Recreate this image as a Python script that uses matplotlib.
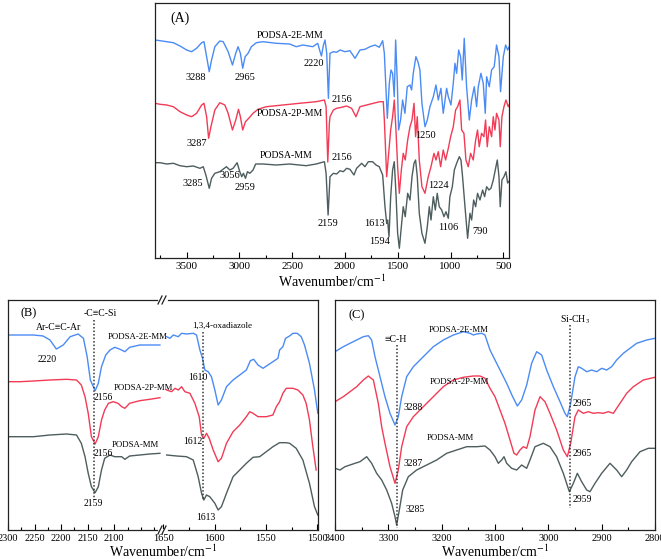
import matplotlib
matplotlib.use('Agg')
import matplotlib.pyplot as plt
from matplotlib.lines import Line2D
from matplotlib.ticker import MultipleLocator, FixedLocator

plt.rcParams['font.family'] = ['Liberation Serif', 'DejaVu Serif']
plt.rcParams['mathtext.fontset'] = 'stix'

# ---------------- Panel A data ----------------
A_wn_2E = [3799,3752,3689,3626,3563,3500,3453,3406,3358,3336,3311,3286,3264,3233,3186,3154,3107,3066,3035,3013,
           2991,2969,2946,2918,2887,2840,2777,2651,2525,2462,2399,2305,2258,2236,2223,2204,2189,2173,2157,
           2142,2110,2079,2047,2000,1953,1905,1858,1811,1763,1716,1675,1643,1627,1599,1580,1564,1549,1533,1520,
           1504,1492,1473,1454,1432,1410,1384,1369,1353,1328,1309,1290,1271,1242,1220,1195,1163,1138,1116,1091,
           1069,1037,1021,996,974,958,942,923,905,889,870,848,822,800,775,753,737,712,690,671,658,633,611,586,
           564,541,526,500,478,459,437]
A_T_2E = [218,217.3,216.3,215.3,212,208,206.3,209.7,215.3,216.3,201.3,186.3,198,211.3,217,216.3,206.3,193,204.7,211.3,
          204.7,189.7,201.3,204.7,211.3,215.3,216.3,214.7,214,211.3,213,211.3,214.7,206.3,202,213,218,204.7,159.7,
          204.7,206.3,205.7,208,206.3,207.3,199.7,208,208.7,211.3,213,210.7,217.3,204.7,139.7,174.7,188,184.7,161.3,218,
          174.7,128,138,158,144.7,171.3,173,168,184.7,201.3,196.3,188,154.7,131.3,138,151.3,161.3,173,158,169.7,
          144.7,169.7,161.3,153,174.7,194.7,184.7,208,201.3,178,219.7,171.3,138,158,171.3,151.3,171.3,184.7,174.7,
          144.7,181.3,171.3,188,191.3,213,201.3,166.3,201.3,213,208,213]

A_wn_2P = [3799,3752,3689,3626,3563,3500,3453,3406,3358,3336,3311,3292,3270,3233,3186,3138,3107,3066,3035,3009,
           2991,2969,2943,2912,2871,2824,2745,2588,2431,2273,2195,2179,2163,2148,
           2142,2110,2079,2032,1984,1937,1896,1858,1795,1732,1669,1637,1627,1605,1586,1567,1549,1533,1517,1501,
           1485,1466,1448,1429,1406,1384,1365,1346,1331,1315,1296,1271,1242,1211,1185,1157,1138,1116,1094,1069,
           1047,1021,999,974,952,933,911,895,873,854,832,810,785,762,744,728,706,684,668,652,633,611,595,579,
           564,541,529,513,494,475,453,437]
A_T_2P = [154.7,153.7,153,151.3,146.3,143,141.3,144.7,153,154.7,141.3,119.7,131.3,148,155.3,153,144.7,128,138,148.7,
          141.3,128,136.3,139.7,144.7,148.7,151.3,153,154.7,156.3,158,151.3,96,134.7,
          141.3,148,149.7,150.7,152,149.7,141.3,151.3,153,154.7,156.3,156.3,138,81.3,104.7,128,141.3,158,128,91.3,
          64.7,88,104.7,98,118,131.3,138,154.7,121.3,141.3,98,71.3,64.7,81.3,91.3,104.7,98,106.3,91.3,108,
          98,109.7,121.3,131.3,148,151.3,158,128,124.7,98,91.3,104.7,98,118,128,111.3,124.7,121.3,138,111.3,131.3,121.3,141.3,128,
          144.7,138,111.3,141.3,151.3,158,151.3,154.7]

A_wn_MM = [3799,3752,3689,3626,3563,3500,3437,3374,3343,3318,3286,3264,3233,3186,3123,3091,3060,3022,2997,2978,
           2962,2943,2924,2902,2871,2846,2777,2651,2525,2368,2273,2195,2179,2160,
           2142,2110,2079,2047,2016,1984,1953,1915,1890,1842,1811,1779,1738,1706,1675,1643,1621,1605,1596,1583,
           1567,1549,1533,1517,1501,1485,1466,1448,1429,1406,1384,1365,1346,1331,1315,1296,1271,1242,1220,1201,
           1185,1163,1144,1126,1107,1084,1062,1043,1021,1006,983,964,942,917,901,886,863,838,816,800,781,762,
           744,721,696,677,658,636,617,595,576,557,541,529,513,494,475,459,437]
A_T_MM = [95.3,95.3,94,94.7,92.3,91.3,92,89.7,91.3,83,69.7,79.7,84.7,86.3,91.3,88,89.7,95.3,86.3,81.3,
          84.7,79.7,86.3,84.7,88,94,94,93,94,92.3,94,96.3,84.7,43,
          81.3,84.7,84,87.3,86.3,89.7,88.7,83,89.7,94.7,91.3,96.3,96.3,93,91.3,83,51.3,34.7,38,21.3,
          61.3,88,96.3,64.7,24.7,9.7,31.3,51.3,41.3,64.7,58,81.3,94.7,98,81.3,44.7,24.7,14.7,31.3,51.3,
          38,61.3,48,64.7,51.3,48,41.3,46.3,39.7,61.3,71.3,88,94.7,101.3,98,81.3,51.3,19.7,44.7,38,58,51.3,
          64.7,58,68,61.3,71.3,68,69.7,78,88,98,81.3,51.3,78,81.3,86.3,75,78]

# ---------------- Panel B data (left: 2300-2012, right: 1652-1500) ----------------
B_wnL_2E = [2299,2277,2252,2234,2221,2209,2196,2183,2168,2158,2151,2145,2136,2130,2124,2116,2108,2099,2089,2080,2071,2052,2033,2014]
B_TL_2E = [195,195,195,194,190,181,185,193.3,196,191.7,173.3,150,139.3,146.7,163.3,175,180,182.7,180.7,178.3,182.7,185,185,185]
B_wnL_2P = [2299,2277,2252,2221,2190,2171,2162,2155,2149,2143,2136,2130,2124,2118,2111,2102,2093,2086,2080,2071,2052,2033,2014]
B_TL_2P = [148.3,148.3,149,150,150.7,150,145,133.3,116.7,93.3,86,93.3,110,120,126.7,128.3,126.7,123.3,121.7,126.7,129.3,130.7,132.3]
B_wnL_MM = [2299,2277,2252,2221,2190,2171,2162,2155,2149,2143,2136,2130,2124,2118,2108,2099,2086,2080,2071,2052,2033,2014]
B_TL_MM = [93.3,93.3,93.3,95,96,95,86.7,73.3,56.7,43.3,37.3,43.3,60,71.7,75,73.3,73.3,70.7,74,75,76,76.7]

B_wnR_2E = [1646.5,1643.3,1640,1635.2,1632,1627.2,1620.7,1617.5,1614.2,1611.7,1609.4,1606.2,1603,1599.7,1596.5,1593.3,
            1588.4,1582,1575.5,1569.1,1565.2,1562,1557.8,1552.9,1548.1,1543.3,1538.4,1536.8,1533.6,1531,1527.1,1523.9,
            1519.7,1515.8,1512.6,1507.8,1502.9,1499.7]
B_TR_2E = [193.3,191.7,195,193.3,196.7,196,196.7,195,180,171.7,160,158.3,153.3,140,125,130,
           143.3,150,155,160,169.3,170.7,165,161.7,165,168.3,171.7,180,183.3,191.7,194,196.7,
           196.7,193.3,185,166.7,140,116.7]
B_wnR_2P = [1646.5,1641.7,1638.4,1635.2,1632,1628.8,1623.9,1619.1,1614.9,1612.6,1610.4,1607.8,1605.2,1601.3,1596.5,1593.3,
            1588.4,1582,1575.5,1569.1,1565.8,1562.6,1557.8,1549.7,1543.3,1540,1536.8,1533.6,1530.3,1523.9,1519,1514.2,
            1511,1507.8,1504.5,1501.3]
B_TR_2P = [140,138.3,141.7,140,143.3,138.3,136.7,126.7,113.3,95,91.7,96.7,91.7,80,68.3,71.7,
           86.7,98.3,105,113.3,118.3,116.7,113.3,113.3,115,123.3,128.3,136.7,141.7,141.7,140,135,
           126.7,110,83.3,60]
B_wnR_MM = [1646.5,1636.8,1627.2,1620.7,1615.9,1612.6,1610.4,1607.8,1604.6,1599.7,1596.5,1593.3,1588.4,1582,1575.5,1569.1,
            1562.6,1556.2,1549.7,1543.3,1536.8,1530.3,1527.1,1520.7,1514.2,1507.8,1502.9,1499.7]
B_TR_MM = [75,74,73.3,70,53.3,36.7,30,35,33.3,26.7,20,23.3,36.7,53.3,60,66.7,
           72.7,73.3,78.3,83.3,87.3,87.3,86.7,81.7,70,46.7,23.3,15]

# ---------------- Panel C data ----------------
C_wn_2E = [3400,3384.4,3371.9,3359.4,3346.9,3337.5,3331.3,3325,3315.6,3306.3,3296.9,3287.5,3281.3,3275,3265.6,3253.1,
           3234.4,3215.6,3196.9,3178.1,3159.4,3146.9,3140.6,3134.4,3125,3118.8,3109.4,3100,3090.6,3078.1,3066.9,3058.1,
           3050,3040.6,3031.3,3021.9,3012.5,3003.1,2990.6,2978.1,2968.8,2964.4,2958.1,2950,2943.8,2937.5,2928.1,2918.8,
           2909.4,2900,2890.6,2881.3,2871.9,2859.4,2846.9,2834.4,2815.6,2800]
C_T_2E = [178.3,183.3,186.7,190,193.3,194.3,190,173.3,153.3,133.3,116.7,105,113.3,133.3,153.3,163.3,
          173.3,183.3,190,195,198.3,196.7,195,196,196.7,195,180,170,160,146.7,133.3,124,
          130,145,166.7,178.3,175,160,143.3,128.3,116.7,113.3,126.7,153.3,163.3,161.7,158.3,160,
          158.3,161.7,160,163.3,170,176.7,181.7,186.7,190,191.7]
C_wn_2P = [3400,3384.4,3371.9,3359.4,3346.9,3337.5,3328.1,3318.8,3312.5,3306.3,3296.9,3287.5,3281.3,3275,3265.6,3253.1,
           3234.4,3215.6,3196.9,3178.1,3159.4,3140.6,3128.1,3118.8,3109.4,3100,3090.6,3081.3,3071.9,3064.4,3059.4,3053.1,
           3046.9,3040.6,3034.4,3025,3015.6,3006.3,2996.9,2984.4,2971.9,2964.4,2958.1,2950,2943.8,2934.4,2925,2915.6,
           2906.3,2896.9,2887.5,2878.1,2865.6,2853.1,2840.6,2821.9,2800]
C_T_2P = [128.3,133.3,138.3,143.3,150,154,150,126.7,103.3,86.7,63.3,46.7,60,83.3,103.3,113.3,
          123.3,133.3,143.3,150,152.7,154,154,151.7,141.7,133.3,120,106.7,90,76.7,75,80,
          83.3,81.7,93.3,120,133.3,128.3,116.7,100,80,73.3,86.7,113.3,120,116.7,118.3,116.7,
          117.3,116.7,118.3,116.7,126.7,136.7,143.3,150,152.7]
C_wn_MM = [3400,3390.6,3381.3,3371.9,3362.5,3353.1,3340.6,3331.3,3321.9,3312.5,3303.1,3293.8,3287.5,3284.4,3279.4,3273.1,
           3262.5,3246.9,3228.1,3209.4,3190.6,3171.9,3153.1,3134.4,3118.8,3109.4,3100,3093.8,3087.5,3083.1,3078.1,3068.8,
           3059.4,3050,3040.6,3034.4,3025,3009.4,2996.9,2984.4,2971.9,2960.6,2953.1,2945.6,2937.5,2928.1,2921.9,2912.5,
           2900,2884.4,2871.9,2862.5,2853.1,2843.8,2828.1,2812.5,2800]
C_T_MM = [61.7,60,63.3,65,66.7,68.3,73.3,66.7,56.7,50,40,26.7,13.3,5,20,40,
          53.3,60,65,70,76.7,80,83.3,83.3,84,80,73.3,66.7,70,73.3,66.7,61.7,
          60,65,61.7,70,83.3,86.7,83.3,73.3,56.7,38.3,46.7,56.7,48.3,40,38.3,46.7,
          56.7,66.7,60,53.3,60,68.3,78.3,81.7,81.7]

BLUE = '#4b8bf4'
RED = '#f23b56'
GRAY = '#4e5d5e'
LW = 1.0

W, H = 661, 559
fig = plt.figure(figsize=(W / 100, H / 100), dpi=100)


def box(l, t, r, b):
    return [l / W, 1 - b / H, (r - l) / W, (b - t) / H]


def style(ax, size):
    ax.set_facecolor('none')
    ax.set_yticks([])
    ax.tick_params(axis='x', which='both', direction='in', top=False, labelsize=size, pad=3)
    ax.tick_params(axis='x', which='major', length=4, width=0.8)
    ax.tick_params(axis='x', which='minor', length=2.5, width=0.8)
    for s in ax.spines.values():
        s.set_linewidth(0.9)
        s.set_color('#222222')


# ---- Panel A ----
axA = fig.add_axes(box(155, 3, 509, 258))
axA.plot(A_wn_2E, A_T_2E, color=BLUE, lw=LW)
axA.plot(A_wn_2P, A_T_2P, color=RED, lw=LW)
axA.plot(A_wn_MM, A_T_MM, color=GRAY, lw=LW)
axA.set_xlim(3800, 446)
axA.set_ylim(0, 255)
axA.xaxis.set_major_locator(FixedLocator([3500, 3000, 2500, 2000, 1500, 1000, 500]))
axA.xaxis.set_minor_locator(FixedLocator([3750, 3250, 2750, 2250, 1750, 1250, 750]))
style(axA, 8)
axA.set_xlabel('Wavenumber/cm$^{-1}$', fontsize=10, labelpad=2)

tsA = 7.5
axA.text(3658, 240, '(A)', fontsize=10, ha='left', va='center')
axA.text(2521, 223, 'PODSA-2E-MM', fontsize=7, ha='center', va='center')
axA.text(2521, 144, 'PODSA-2P-MM', fontsize=7, ha='center', va='center')
axA.text(2558, 102, 'PODSA-MM', fontsize=7, ha='center', va='center')
for wn, v, s in [(3412, 180, '3288'), (2948, 181, '2965'), (2294, 195, '2220'), (2029, 159, '2156'),
                 (3400, 115, '3287'), (1233, 122, '1250'), (2029, 101, '2156'), (3439, 75, '3285'),
                 (3089, 83, '3056'), (2948, 70, '2959'), (2162, 35, '2159'), (1725, 34, '1613'),
                 (1668, 17, '1594'), (1110, 72, '1224'), (1025, 31, '1106'), (722, 26, '790')]:
    axA.text(wn, v, s, fontsize=tsA, ha='center', va='center')

# ---- Panel B (broken axis) ----
axB1 = fig.add_axes(box(8, 300, 161, 530))
axB2 = fig.add_axes(box(161, 300, 318, 530))
for ax in (axB1, axB2):
    style(ax, 7.5)
    ax.set_ylim(0, 230)
axB1.spines['right'].set_visible(False)
axB2.spines['left'].set_visible(False)
axB1.plot(B_wnL_2E, B_TL_2E, color=BLUE, lw=LW)
axB1.plot(B_wnL_2P, B_TL_2P, color=RED, lw=LW)
axB1.plot(B_wnL_MM, B_TL_MM, color=GRAY, lw=LW)
axB2.plot(B_wnR_2E, B_TR_2E, color=BLUE, lw=LW)
axB2.plot(B_wnR_2P, B_TR_2P, color=RED, lw=LW)
axB2.plot(B_wnR_MM, B_TR_MM, color=GRAY, lw=LW)
axB1.set_xlim(2300, 2012)
axB2.set_xlim(1652, 1499.5)
axB1.xaxis.set_major_locator(FixedLocator([2300, 2250, 2200, 2150, 2100]))
axB1.xaxis.set_minor_locator(FixedLocator([2275, 2225, 2175, 2125, 2075, 2050, 2025]))
axB2.xaxis.set_major_locator(FixedLocator([1650, 1600, 1550, 1500]))
axB2.xaxis.set_minor_locator(FixedLocator([1625, 1575, 1525]))
fig.text(163 / W, 1 - 552 / H, 'Wavenumber/cm$^{-1}$', fontsize=10, ha='center', va='center')

dot = dict(ls=(0, (1, 1.3)), color='#333333', lw=1.1)
axB1.plot([2138, 2138], [210, 30], **dot)
axB2.plot([1611, 1611], [198, 30], **dot)
tsB = 7
axB1.text(2277, 217, '(B)', fontsize=9, ha='left', va='center')
axB1.text(2126, 217, '-C≡C-Si', fontsize=tsB, ha='center', va='center')
axB1.text(2205, 203, 'Ar-C≡C-Ar', fontsize=tsB, ha='center', va='center')
axB1.text(2226, 171, '2220', fontsize=tsB, ha='center', va='center')
axB1.text(2055, 193, 'PODSA-2E-MM', fontsize=6.3, ha='center', va='center')
axB1.text(2046, 142, 'PODSA-2P-MM', fontsize=6.3, ha='center', va='center')
axB1.text(2060, 85, 'PODSA-MM', fontsize=6.3, ha='center', va='center')
axB1.text(2121, 132, '2156', fontsize=tsB, ha='center', va='center')
axB1.text(2121, 77, '2156', fontsize=tsB, ha='center', va='center')
axB1.text(2140, 27, '2159', fontsize=tsB, ha='center', va='center')
axB2.text(1593, 204, '1,3,4-oxadiazole', fontsize=6.5, ha='center', va='center')
axB2.text(1616, 152, '1610', fontsize=tsB, ha='center', va='center')
axB2.text(1621, 88, '1612', fontsize=tsB, ha='center', va='center')
axB2.text(1608, 13, '1613', fontsize=tsB, ha='center', va='center')

# break marks
for yb in (300, 530):
    fig.add_artist(Line2D([159 / W, 166 / W], [1 - yb / H, 1 - yb / H], color='white', lw=2))
    for xo in (158, 162):
        fig.add_artist(Line2D([xo / W, (xo + 4) / W], [1 - (yb + 4) / H, 1 - (yb - 4) / H],
                              color='#222222', lw=0.9))

# ---- Panel C ----
axC = fig.add_axes(box(335, 300, 655, 530))
axC.plot(C_wn_2E, C_T_2E, color=BLUE, lw=LW)
axC.plot(C_wn_2P, C_T_2P, color=RED, lw=LW)
axC.plot(C_wn_MM, C_T_MM, color=GRAY, lw=LW)
axC.set_xlim(3400, 2800)
axC.set_ylim(0, 230)
axC.xaxis.set_major_locator(MultipleLocator(100))
axC.xaxis.set_minor_locator(MultipleLocator(50))
style(axC, 7.5)
axC.set_xlabel('Wavenumber/cm$^{-1}$', fontsize=10, labelpad=0)
axC.plot([3284, 3284], [185, 2], **dot)
axC.plot([2959, 2959], [205, 22], **dot)
axC.text(3375, 215, '(C)', fontsize=9, ha='left', va='center')
axC.text(3286, 190, '≡C-H', fontsize=tsB, ha='center', va='center')
axC.text(3169, 200, 'PODSA-2E-MM', fontsize=6.3, ha='center', va='center')
axC.text(3166, 148, 'PODSA-2P-MM', fontsize=6.3, ha='center', va='center')
axC.text(3183, 92, 'PODSA-MM', fontsize=6.3, ha='center', va='center')
axC.text(3253, 123, '3288', fontsize=tsB, ha='center', va='center')
axC.text(3253, 66, '3287', fontsize=tsB, ha='center', va='center')
axC.text(3250, 21, '3285', fontsize=tsB, ha='center', va='center')
axC.text(2950, 210, 'Si-CH$_3$', fontsize=tsB, ha='center', va='center')
axC.text(2955, 127, '2965', fontsize=tsB, ha='left', va='center')
axC.text(2955, 76, '2965', fontsize=tsB, ha='left', va='center')
axC.text(2955, 30, '2959', fontsize=tsB, ha='left', va='center')

fig.savefig('out.png', dpi=100)
